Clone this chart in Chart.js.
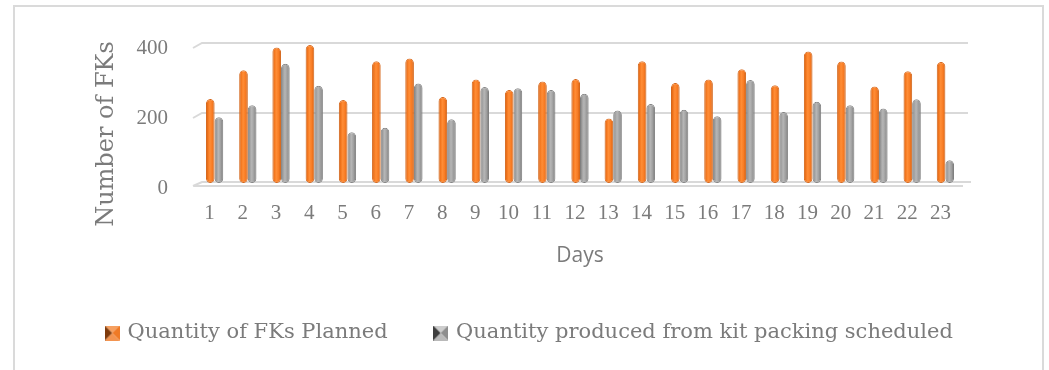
<!DOCTYPE html>
<html>
<head>
<meta charset="utf-8">
<script src="https://cdn.jsdelivr.net/npm/chart.js@4.4.1/dist/chart.umd.min.js"></script>
<style>
  html, body { margin: 0; padding: 0; background: #ffffff; }
  #frame {
    position: absolute; left: 13px; top: 5px; width: 1031px; height: 420px;
    border: 2px solid #dadada; box-sizing: border-box;
  }
  #wrap { position: absolute; left: 0; top: 0; width: 1049px; height: 370px; }
</style>
</head>
<body>
<div id="frame"></div>
<div id="wrap"><canvas id="chart" width="1049" height="370"></canvas></div>
<script>
// Daily kit counts
const days = ['1','2','3','4','5','6','7','8','9','10','11','12','13','14','15','16','17','18','19','20','21','22','23'];
const plannedFKs  = [240, 322, 387, 394, 237, 348, 356, 246, 296, 266, 290, 297, 184, 348, 286, 296, 325, 279, 376, 347, 276, 319, 346];
const producedFKs = [188, 222, 341, 278, 145, 158, 284, 182, 274, 271, 266, 255, 207, 226, 209, 191, 294, 203, 232, 222, 213, 239, 65];
const yTickValues = [0, 200, 400];
const seriesNames = ['Quantity of FKs Planned', 'Quantity produced from kit packing scheduled'];
const xTitle = 'Days';
const yTitle = 'Number of FKs';

// Layout
const PLOT_LEFT = 198, PLOT_TOP = 43, PLOT_BOTTOM = 183, RIGHT_GUTTER = 87;
const PAD_LEFT = 11, PAD_BOTTOM = 16.5;
const CAT_PCT = 0.52;
const TEXT = '#7b7b7b';
const GRID = '#d9d9d9';

// Cylinder-like horizontal shading for each bar
function cylinderFill(stops) {
  return (c) => {
    const chart = c.chart, xs = chart.scales.x;
    if (c.type !== 'data' || !xs || !chart.chartArea) return stops[2][1];
    const catW = (xs.right - xs.left) / days.length;
    const barW = catW * CAT_PCT / 2;
    const center = xs.getPixelForValue(c.dataIndex);
    const x0 = center - catW * CAT_PCT / 2 + c.datasetIndex * barW;
    const g = chart.ctx.createLinearGradient(x0, 0, x0 + barW, 0);
    stops.forEach(([o, col]) => g.addColorStop(o, col));
    return g;
  };
}
const orangeStops = [[0, '#c95a0c'], [0.22, '#f2751d'], [0.45, '#ff8d36'], [0.75, '#f77a22'], [1, '#c65b10']];
const grayStops   = [[0, '#767676'], [0.25, '#a2a2a2'], [0.45, '#b6b6b6'], [0.75, '#9c9c9c'], [1, '#707070']];

// Bevelled square legend markers
function bevelMarker(top, right, bottom, left) {
  const s = 15, cv = document.createElement('canvas');
  cv.width = s; cv.height = s;
  const g = cv.getContext('2d');
  const m = s / 2;
  const face = (pts, col) => {
    g.beginPath(); g.moveTo(pts[0][0], pts[0][1]);
    pts.slice(1).forEach(p => g.lineTo(p[0], p[1]));
    g.closePath(); g.fillStyle = col; g.fill();
  };
  face([[0, 0], [s, 0], [m, m]], top);
  face([[s, 0], [s, s], [m, m]], right);
  face([[s, s], [0, s], [m, m]], bottom);
  face([[0, s], [0, 0], [m, m]], left);
  return cv;
}
const markers = [
  bevelMarker('#f6a060', '#ef7a26', '#f39450', '#7e3a0b'),
  bevelMarker('#cdcdcd', '#8d8d8d', '#b9b9b9', '#3e3e3e')
];

// Gridlines with a slight shelf at the left, plus the floor
const shelfGrid = {
  id: 'shelfGrid',
  beforeDatasetsDraw(chart) {
    const {ctx, chartArea: {left, right}} = chart;
    const ys = chart.scales.y;
    ctx.save();
    ctx.strokeStyle = GRID; ctx.lineWidth = 2;
    ys.ticks.forEach(t => {
      const y = ys.getPixelForValue(t.value);
      ctx.beginPath();
      if (t.value === 0) {
        ctx.moveTo(left - 5, y + 3); ctx.lineTo(left + 4, y - 1); ctx.lineTo(right + 9, y - 1);
        ctx.moveTo(left - 5, y + 3); ctx.lineTo(right + 1, y + 3);
      } else {
        ctx.moveTo(left - 5, y + 5); ctx.lineTo(left + 4, y); ctx.lineTo(right + 6, y);
      }
      ctx.stroke();
    });
    ctx.restore();
  }
};

// Vertical axis title
const yAxisTitle = {
  id: 'yAxisTitle',
  afterDraw(chart) {
    const {ctx, chartArea} = chart;
    ctx.save();
    ctx.translate(chartArea.left - 91, (chartArea.top + chartArea.bottom) / 2 + 21);
    ctx.rotate(-Math.PI / 2);
    ctx.font = '24px "DejaVu Serif"';
    ctx.fillStyle = TEXT;
    ctx.textAlign = 'center';
    ctx.textBaseline = 'middle';
    ctx.fillText(yTitle, 0, 0);
    ctx.restore();
  }
};

new Chart(document.getElementById('chart'), {
  type: 'bar',
  data: {
    labels: days,
    datasets: [
      {
        label: seriesNames[0], data: plannedFKs,
        backgroundColor: cylinderFill(orangeStops),
        borderColor: '#d5661a', borderWidth: 1,
        borderRadius: 5, borderSkipped: false,
        categoryPercentage: CAT_PCT, barPercentage: 1
      },
      {
        label: seriesNames[1], data: producedFKs,
        backgroundColor: cylinderFill(grayStops),
        borderColor: '#808080', borderWidth: 1,
        borderRadius: 5, borderSkipped: false,
        categoryPercentage: CAT_PCT, barPercentage: 1
      }
    ]
  },
  options: {
    responsive: false,
    animation: false,
    devicePixelRatio: 1,
    layout: { padding: { left: PAD_LEFT, right: 0, top: PLOT_TOP, bottom: PAD_BOTTOM } },
    scales: {
      x: {
        grid: { display: false, drawTicks: false },
        border: { display: false },
        ticks: {
          color: TEXT, font: { family: '"Liberation Serif"', size: 21 },
          padding: 18, labelOffset: -5, autoSkip: false, maxRotation: 0
        },
        title: {
          display: true, text: xTitle, color: TEXT,
          font: { family: '"Open Sans"', size: 21 }, padding: { top: 0, bottom: 6 }
        },
        afterFit(s) { s.height = s.chart.height - PAD_BOTTOM - s.chart.legend.height - PLOT_BOTTOM; }
      },
      y: {
        min: 0, max: 400,
        grid: { display: false, drawTicks: false },
        border: { display: false },
        ticks: {
          color: TEXT, font: { family: '"Liberation Serif"', size: 21 },
          padding: 30, labelOffset: 5
        },
        afterBuildTicks(s) { s.ticks = yTickValues.map(v => ({ value: v })); },
        afterFit(s) { s.width = PLOT_LEFT - PAD_LEFT; }
      },
      gutter: {
        position: 'right', min: 0, max: 1,
        grid: { display: false }, border: { display: false },
        ticks: { display: false },
        afterFit(s) { s.width = RIGHT_GUTTER; }
      }
    },
    plugins: {
      tooltip: { enabled: false },
      legend: {
        position: 'bottom',
        labels: {
          color: TEXT, font: { family: '"DejaVu Serif"', size: 21 },
          usePointStyle: true, boxWidth: 10, boxHeight: 15, padding: 48,
          generateLabels(chart) {
            const items = Chart.defaults.plugins.legend.labels.generateLabels(chart);
            items.forEach((it, i) => { it.pointStyle = markers[i]; });
            return items;
          }
        }
      }
    }
  },
  plugins: [shelfGrid, yAxisTitle]
});
</script>
</body>
</html>
